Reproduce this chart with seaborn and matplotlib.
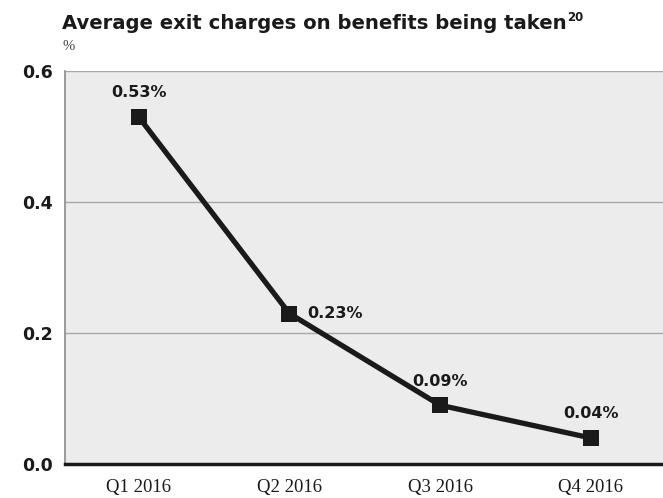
import matplotlib
matplotlib.use("Agg")
import matplotlib.pyplot as plt
import seaborn as sns
import pandas as pd

quarters = ["Q1 2016", "Q2 2016", "Q3 2016", "Q4 2016"]
exit_charge = [0.53, 0.23, 0.09, 0.04]
point_labels = ["0.53%", "0.23%", "0.09%", "0.04%"]
y_ticks = [0.0, 0.2, 0.4, 0.6]

title = "Average exit charges on benefits being taken"
footnote = "20"
unit = "%"

df = pd.DataFrame({"quarter": quarters, "charge": exit_charge})
df["pos"] = range(len(df))

sns.set_style("white", {"axes.facecolor": "#ececec"})
plt.rcParams["font.family"] = ["DejaVu Sans"]

fig = plt.figure(figsize=(6.63, 4.98), dpi=100)
ax = fig.add_axes([0.098, 0.068, 0.902, 0.789])

sns.lineplot(data=df, x="pos", y="charge", ax=ax, color="#1a1a1a",
             linewidth=3.8, marker="s", markersize=12, markeredgewidth=0,
             zorder=5)

# value labels
offsets = [(0, 12, "center", "bottom"), (13, 0, "left", "center"),
           (0, 12, "center", "bottom"), (0, 12, "center", "bottom")]
for i, (dx, dy, ha, va) in enumerate(offsets):
    ax.annotate(point_labels[i], (df["pos"][i], exit_charge[i]),
                xytext=(dx, dy), textcoords="offset points", ha=ha, va=va,
                fontsize=11.5, fontweight="bold", color="#1a1a1a", zorder=6)

ax.set_xlim(-0.49, 3.48)
ax.set_ylim(0, 0.6)
ax.set_xticks(df["pos"])
ax.set_xticklabels(quarters, family=["Liberation Serif"], fontsize=13.5,
                   color="#1a1a1a")
ax.set_yticks(y_ticks)
ax.set_yticklabels([f"{t:.1f}" for t in y_ticks], fontsize=12.5,
                   fontweight="bold", color="#1a1a1a")
ax.tick_params(axis="both", length=0)
ax.tick_params(axis="y", pad=9)
ax.tick_params(axis="x", pad=11)
ax.set_xlabel("")
ax.set_ylabel("")

ax.grid(axis="y", color="#a8a8a8", linewidth=1)
ax.set_axisbelow(True)
for side in ["top", "right"]:
    ax.spines[side].set_visible(False)
ax.spines["left"].set_color("#8a8a8a")
ax.spines["left"].set_linewidth(1.2)
ax.spines["bottom"].set_color("#1a1a1a")
ax.spines["bottom"].set_linewidth(2.5)

t = fig.text(0.094, 0.942, title, fontsize=14.1, fontweight="bold",
             color="#1a1a1a", va="baseline")
fig.canvas.draw()
bb = t.get_window_extent()
fig.text(bb.x1 / fig.bbox.width, 0.957, footnote, fontsize=8.5,
         fontweight="bold", color="#1a1a1a", va="baseline")
fig.text(0.094, 0.900, unit, fontsize=10.5, family=["Liberation Serif"],
         color="#444444", va="baseline")

fig.savefig("out.png", dpi=100)
